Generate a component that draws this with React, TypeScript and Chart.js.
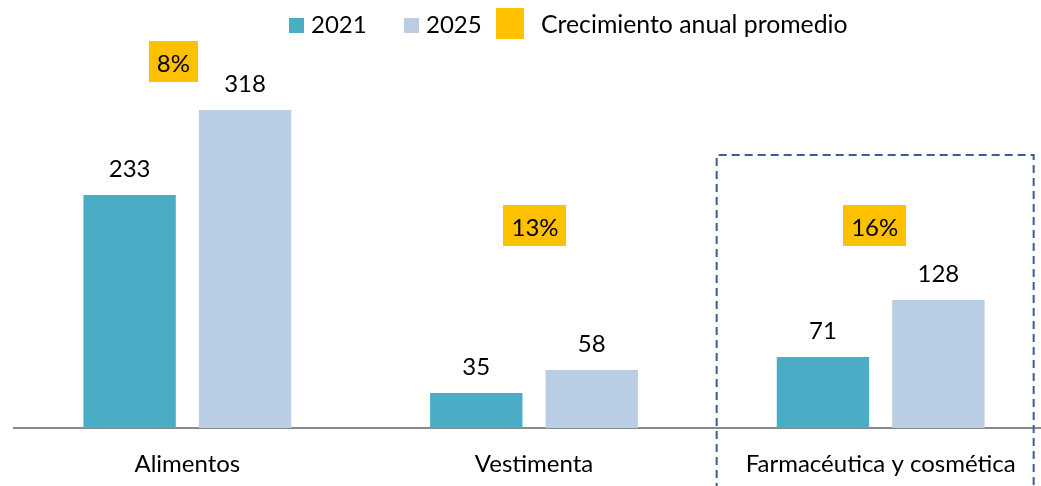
import React, { useEffect, useRef } from "react";
import { Chart, registerables } from "chart.js";

Chart.register(...registerables);

// ---- data ----
const categories = ["Alimentos", "Vestimenta", "Farmacéutica y cosmética"];
const values2021 = [233, 35, 71];
const values2025 = [318, 58, 128];
const growthRates = ["8%", "13%", "16%"];
const growthLabelLevel = [367, 203, 203];
const seriesNames = ["2021", "2025", "Crecimiento anual promedio"];
const highlightedCategory = 2;
const highlightTopLevel = 273;

// ---- styles ----
const COLOR_2021 = "#4BACC6";
const COLOR_2025 = "#B9CDE5";
const COLOR_GROWTH = "#FFC000";
const COLOR_BOX = "#3B5C94";
const COLOR_AXIS = "#898989";
const FONT_FAMILY = "Lato, 'Open Sans', sans-serif";
const FONT_SIZE = 24;
const growthBoxOffsetX = [-14, 1, -6];

const overlayPlugin = {
  id: "overlay",
  afterDatasetsDraw(chart: any) {
    const ctx = chart.ctx as CanvasRenderingContext2D;
    const xs = chart.scales.x;
    const ys = chart.scales.y;
    ctx.save();
    ctx.font = `${FONT_SIZE}px ${FONT_FAMILY}`;
    ctx.textAlign = "center";
    ctx.textBaseline = "alphabetic";

    // value labels
    chart.data.datasets.forEach((ds: any, i: number) => {
      const meta = chart.getDatasetMeta(i);
      meta.data.forEach((bar: any, j: number) => {
        ctx.fillStyle = "#000";
        ctx.fillText(String(ds.data[j]), bar.x, bar.y - 18);
      });
    });

    // growth labels
    growthRates.forEach((g, i) => {
      const cx = xs.getPixelForValue(i) + growthBoxOffsetX[i];
      const cy = ys.getPixelForValue(growthLabelLevel[i]);
      const w = ctx.measureText(g).width + 16;
      const h = 41;
      ctx.fillStyle = COLOR_GROWTH;
      ctx.fillRect(Math.round(cx - w / 2), Math.round(cy - h / 2), Math.round(w), h);
      ctx.fillStyle = "#000";
      ctx.fillText(g, cx, cy + h / 2 - 10);
    });

    // dashed highlight box
    const hx = xs.getPixelForValue(highlightedCategory);
    const top = ys.getPixelForValue(highlightTopLevel);
    ctx.strokeStyle = COLOR_BOX;
    ctx.lineWidth = 2;
    ctx.setLineDash([8, 5]);
    ctx.beginPath();
    ctx.moveTo(hx - 164, chart.height + 5);
    ctx.lineTo(hx - 164, top);
    ctx.lineTo(hx + 153, top);
    ctx.lineTo(hx + 153, chart.height + 5);
    ctx.stroke();
    ctx.setLineDash([]);

    // legend
    ctx.textAlign = "left";
    ctx.fillStyle = COLOR_2021;
    ctx.fillRect(289, 18, 15, 15);
    ctx.fillStyle = "#000";
    ctx.fillText(seriesNames[0], 311, 33);
    ctx.fillStyle = COLOR_2025;
    ctx.fillRect(404, 18, 15, 15);
    ctx.fillStyle = "#000";
    ctx.fillText(seriesNames[1], 426, 33);
    ctx.fillStyle = COLOR_GROWTH;
    ctx.fillRect(496, 8, 28, 31);
    ctx.fillStyle = "#000";
    ctx.font = `${FONT_SIZE + 0.8}px ${FONT_FAMILY}`;
    ctx.fillText(seriesNames[2], 541, 33);
    ctx.restore();
  },
};

export default function App() {
  const ref = useRef<HTMLCanvasElement>(null);
  useEffect(() => {
    if (!ref.current) return;
    const chart = new Chart(ref.current, {
      type: "bar",
      data: {
        labels: categories,
        datasets: [
          { label: seriesNames[0], data: values2021, backgroundColor: COLOR_2021 },
          { label: seriesNames[1], data: values2025, backgroundColor: COLOR_2025 },
        ],
      },
      options: {
        animation: false,
        responsive: false,
        events: [],
        categoryPercentage: 0.666,
        barPercentage: 0.8,
        layout: { padding: { left: 14, right: 0, top: 28, bottom: 0 } },
        plugins: { legend: { display: false }, tooltip: { enabled: false } },
        scales: {
          x: {
            grid: { display: false, drawTicks: false },
            border: { display: true, color: COLOR_AXIS, width: 2 },
            ticks: {
              color: "#000",
              padding: 22,
              maxRotation: 0,
              autoSkip: false,
              font: { family: FONT_FAMILY, size: FONT_SIZE },
            },
            afterFit: (scale: any) => {
              scale.height = 58;
            },
          },
          y: { display: false, min: 0, max: 400 },
        },
      },
      plugins: [overlayPlugin],
    } as any);
    return () => chart.destroy();
  }, []);
  return (
    <div style={{ position: "absolute", left: 0, top: 0, width: 1041, height: 486, overflow: "hidden", background: "#fff" }}>
      <canvas ref={ref} width={1054} height={486} style={{ width: 1054, height: 486, display: "block" }} />
    </div>
  );
}
